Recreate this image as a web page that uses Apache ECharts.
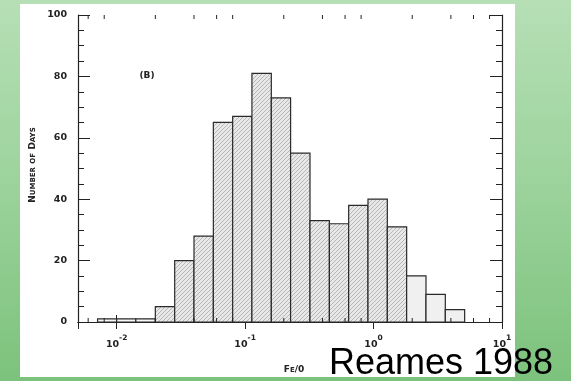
<!DOCTYPE html>
<html><head><meta charset="utf-8">
<script src="https://cdn.jsdelivr.net/npm/echarts@6/dist/echarts.min.js"></script>
<style>
html,body{margin:0;padding:0;}
#c{width:571px;height:381px;background:linear-gradient(180deg,#b6dfb6 0%,#9bd29b 50%,#7cc27c 100%);}
</style>
</head><body><div id="c"></div>
<script>
// Bin edges (Fe/O), counts (number of days), tick values
const binEdges = [0.0071, 0.01, 0.0141, 0.02, 0.0283, 0.04, 0.0566, 0.08, 0.113, 0.16, 0.226, 0.32, 0.453, 0.64, 0.905, 1.28, 1.81, 2.56, 3.62, 5.12];
const counts = [1, 1, 1, 5, 20, 28, 65, 67, 81, 73, 55, 33, 32, 38, 40, 31, 15, 9, 4];
const yTicks = [0, 20, 40, 60, 80, 100];
const xMinorTicks = [0.006, 0.008, 0.02, 0.04, 0.06, 0.08, 0.2, 0.4, 0.6, 0.8, 2, 4, 6, 8];

const chart = echarts.init(document.getElementById('c'), null, {renderer: 'canvas'});

function makeHatch() {
  const c = document.createElement('canvas');
  c.width = 4; c.height = 4;
  const g = c.getContext('2d');
  g.fillStyle = '#e8e8e8';
  g.fillRect(0, 0, 4, 4);
  g.strokeStyle = '#a2a2a2';
  g.lineWidth = 0.7;
  g.beginPath();
  g.moveTo(0, 4); g.lineTo(4, 0);
  g.moveTo(-1, 1); g.lineTo(1, -1);
  g.moveTo(3, 5); g.lineTo(5, 3);
  g.stroke();
  return c;
}
const hatchPattern = {image: makeHatch(), repeat: 'repeat'};

const axisColor = '#222';
const labelFont = 'DejaVu Sans';

function xFmt(v) {
  const l = Math.log10(v);
  const e = Math.round(l);
  if (Math.abs(l - e) > 0.01) return '';
  return '{b|10}{s|' + e + '}';
}

const xAxisBase = {
  type: 'log', logBase: 10, min: 0.005, max: 10,
  axisLine: {show: true, lineStyle: {color: axisColor, width: 1.2}},
  axisTick: {show: true, inside: true, length: 7, lineStyle: {color: axisColor, width: 1}},
  splitLine: {show: false}, minorTick: {show: false}, minorSplitLine: {show: false}
};
const yAxisBase = {
  type: 'value', min: yTicks[0], max: yTicks[yTicks.length - 1], interval: 20,
  axisLine: {show: true, lineStyle: {color: axisColor, width: 1.2}},
  axisTick: {show: true, inside: true, length: 12, lineStyle: {color: axisColor, width: 1}},
  minorTick: {show: true, splitNumber: 4, length: 6, lineStyle: {color: axisColor, width: 1}},
  splitLine: {show: false}, minorSplitLine: {show: false}
};

const option = {
  animation: false,
  backgroundColor: 'transparent',
  grid: {left: 78, right: 69, top: 15, bottom: 59, containLabel: false},
  xAxis: [
    Object.assign({}, xAxisBase, {
      position: 'bottom',
      axisLabel: {
        show: true, showMinLabel: false, showMaxLabel: true, margin: 12,
        formatter: xFmt,
        rich: {
          b: {fontFamily: labelFont, fontWeight: 'bold', fontSize: 9.5, color: '#222', lineHeight: 16, verticalAlign: 'bottom'},
          s: {fontFamily: labelFont, fontWeight: 'bold', fontSize: 7.5, color: '#222', lineHeight: 16, verticalAlign: 'top'}
        }
      }
    }),
    Object.assign({}, xAxisBase, {position: 'top', axisLabel: {show: false}})
  ],
  yAxis: [
    Object.assign({}, yAxisBase, {
      position: 'left',
      axisLabel: {show: true, margin: 11, fontFamily: labelFont, fontWeight: 'bold', fontSize: 9.5, color: '#222'}
    }),
    Object.assign({}, yAxisBase, {position: 'right', axisLabel: {show: false}})
  ],
  graphic: {elements: [
    {type: 'rect', z: -100, shape: {x: 20, y: 4, width: 495, height: 373}, style: {fill: '#ffffff'}},
    {type: 'text', x: 147, y: 76, style: {text: '(B)', font: 'bold 9px "DejaVu Sans"', fill: '#222', align: 'center', verticalAlign: 'middle'}},
    {type: 'text', x: 33, y: 165, rotation: Math.PI / 2,
      style: {
        text: '{b|N}{s|UMBER} {s|OF} {b|D}{s|AYS}',
        align: 'center', verticalAlign: 'middle',
        rich: {
          b: {fontFamily: labelFont, fontWeight: 'bold', fontSize: 9, fill: '#222'},
          s: {fontFamily: labelFont, fontWeight: 'bold', fontSize: 7, fill: '#222'}
        }
      }},
    {type: 'text', x: 294, y: 370,
      style: {
        text: '{b|F}{s|E}{b|/0}',
        align: 'center', verticalAlign: 'middle',
        rich: {
          b: {fontFamily: labelFont, fontWeight: 'bold', fontSize: 9, fill: '#222'},
          s: {fontFamily: labelFont, fontWeight: 'bold', fontSize: 7, fill: '#222'}
        }
      }},
    {type: 'text', z: 100, x: 329, y: 364,
      style: {text: 'Reames 1988', font: '36px "Liberation Sans"', fill: '#000', align: 'left', verticalAlign: 'middle'}}
  ]},
  series: [
    {
      type: 'custom', xAxisIndex: 0, yAxisIndex: 0,
      encode: {x: [0, 1], y: 2},
      data: counts.map((v, i) => [binEdges[i], binEdges[i + 1], v]),
      renderItem: function (params, api) {
        const i = params.dataIndex;
        const lo = api.value(0), hi = api.value(1), v = api.value(2);
        const p1 = api.coord([lo, v]);
        const p2 = api.coord([hi, 0]);
        let fill;
        if (i < 3) fill = '#f7f7f7';
        else if (i >= 16) fill = '#f0f0f0';
        else fill = hatchPattern;
        return {
          type: 'rect',
          shape: {x: p1[0], y: p1[1], width: p2[0] - p1[0], height: p2[1] - p1[1]},
          style: {fill: fill, stroke: '#2a2a2a', lineWidth: 1.2}
        };
      }
    },
    {
      type: 'custom', xAxisIndex: 0, yAxisIndex: 0, z: 5,
      encode: {x: 0, y: 1},
      data: xMinorTicks.map(v => [v, 0]),
      renderItem: function (params, api) {
        const v = api.value(0);
        const b = api.coord([v, yTicks[0]]);
        const t = api.coord([v, yTicks[yTicks.length - 1]]);
        const st = {stroke: '#222', lineWidth: 1};
        return {type: 'group', children: [
          {type: 'line', shape: {x1: b[0], y1: b[1], x2: b[0], y2: b[1] - 4}, style: st},
          {type: 'line', shape: {x1: t[0], y1: t[1], x2: t[0], y2: t[1] + 4}, style: st}
        ]};
      }
    }
  ]
};
chart.setOption(option);
</script>
</body></html>
